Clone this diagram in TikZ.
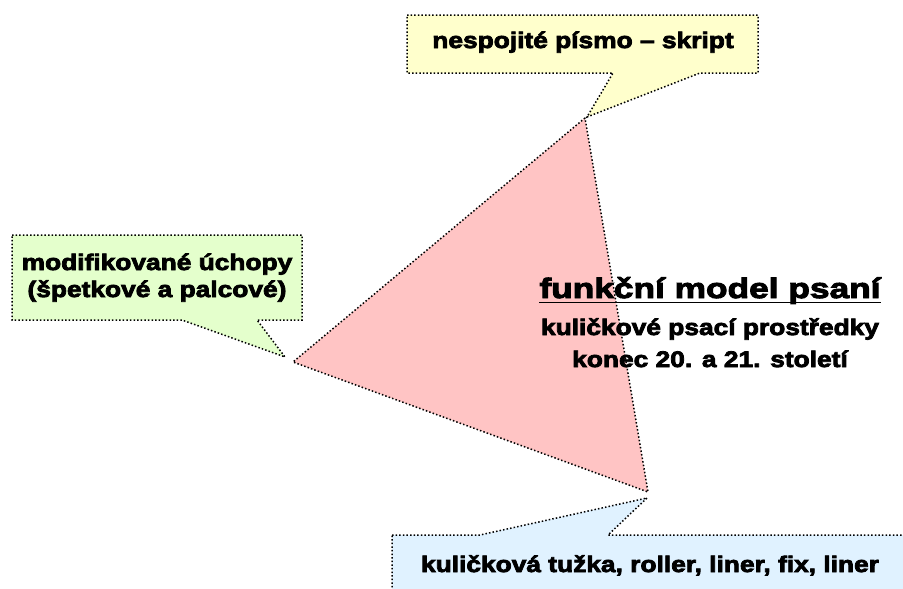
\documentclass[tikz,border=0pt]{standalone}
\usepackage{fontspec}
\newfontfamily\heavy{Liberation Sans}[BoldFont={Liberation Sans Bold},BoldFeatures={FakeBold=3.5,FakeStretch=1.17}]
\newfontfamily\heavyT{Liberation Sans}[BoldFont={Liberation Sans Bold},BoldFeatures={FakeBold=3.5,FakeStretch=1.26}]
\definecolor{callyellow}{HTML}{FFFFCC}
\definecolor{callgreen}{HTML}{E4FFCC}
\definecolor{callblue}{HTML}{E0F2FF}
\definecolor{tripink}{HTML}{FFC4C4}
\tikzset{
  callout/.style={draw=black, line width=1.5pt, dash pattern=on 1.5pt off 2.1pt},
  lbl/.style={font=\heavy\bfseries\fontsize{22.5}{26}\selectfont, text=black, inner sep=0pt, anchor=base},
}
\begin{document}
\begin{tikzpicture}[x=1pt,y=-1pt]
\useasboundingbox (0,0) rectangle (903,589);
% triangle
\draw[callout, fill=tripink] (585,118) -- (293,362) -- (648,492) -- cycle;
% top yellow callout
\draw[callout, fill=callyellow] (407,15) -- (758,15) -- (758,73) -- (700,73) -- (587,117) -- (613,73) -- (407,73) -- cycle;
% green callout
\draw[callout, fill=callgreen] (12,235) -- (302,235) -- (302,320) -- (257,320) -- (285,357) -- (182,320) -- (12,320) -- cycle;
% blue callout
\draw[callout, fill=callblue] (392,535) -- (480,535) -- (647,498) -- (608,535) -- (915,535) -- (915,600) -- (392,600) -- cycle;
% texts
\node[lbl] (top) at (583,48) {nespojité písmo – skript};
\node[lbl] (left1) at (157,270) {modifikované úchopy};
\node[lbl] (left2) at (157,297) {(špetkové a palcové)};
\node[lbl] (bottom) at (650,572) {kuličková tužka, roller, liner, fix, liner};
\node[lbl, font=\heavyT\bfseries\fontsize{28}{32}\selectfont] (title) at (710,298) {funkční model psaní};
\draw[line width=1.8pt] ([yshift=-4.5pt]title.base west) -- ([yshift=-4.5pt]title.base east);
\node[lbl] (sub1) at (710,335) {kuličkové psací prostředky};
\node[lbl] (sub2) at (710,367) {konec 20. a 21. století};
\end{tikzpicture}
\end{document}
